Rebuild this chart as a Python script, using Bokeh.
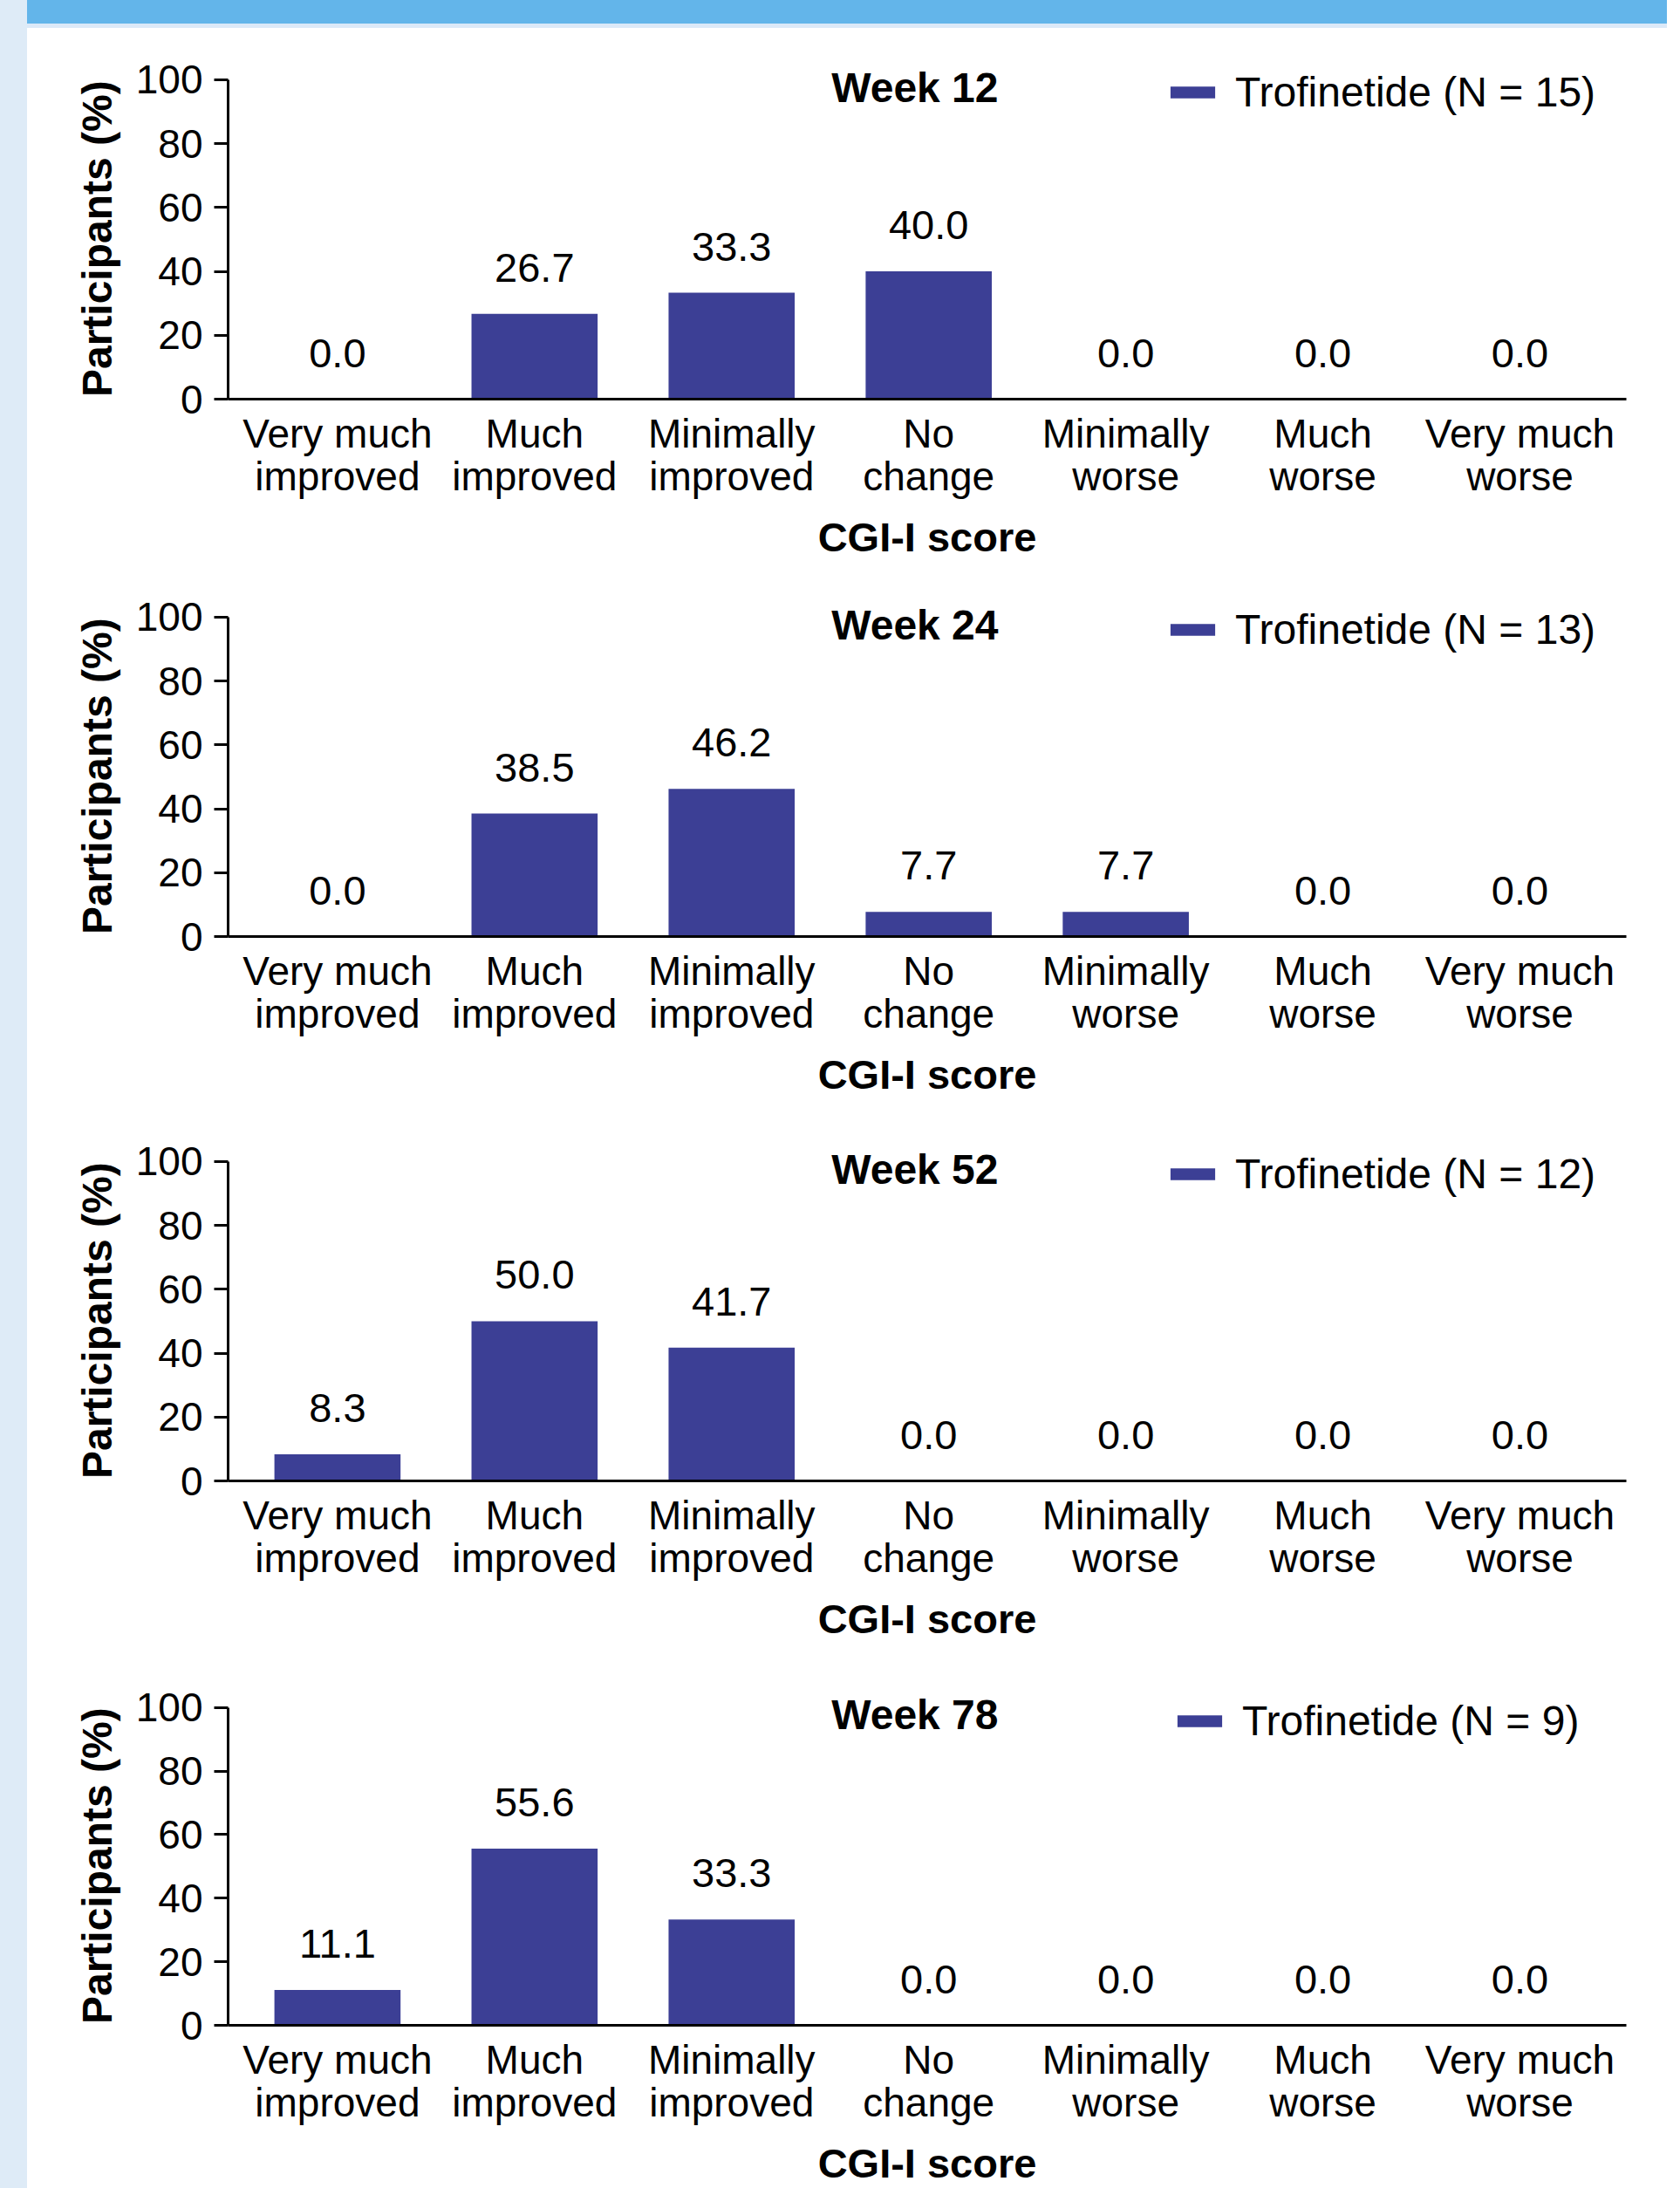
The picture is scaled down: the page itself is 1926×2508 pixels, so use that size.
from bokeh.plotting import figure
from bokeh.models import Range1d, FixedTicker, Label, Legend, LegendItem, ColumnDataSource, Div
from bokeh.layouts import row, column
from bokeh.core.properties import value
from bokeh.embed import file_html
from bokeh.resources import INLINE

# ---------------- data ----------------
categories = ["Very much\nimproved", "Much\nimproved", "Minimally\nimproved", "No\nchange",
              "Minimally\nworse", "Much\nworse", "Very much\nworse"]
weeks = ["Week 12", "Week 24", "Week 52", "Week 78"]
n_participants = [15, 13, 12, 9]
week12 = [0.0, 26.7, 33.3, 40.0, 0.0, 0.0, 0.0]
week24 = [0.0, 38.5, 46.2, 7.7, 7.7, 0.0, 0.0]
week52 = [8.3, 50.0, 41.7, 0.0, 0.0, 0.0, 0.0]
week78 = [11.1, 55.6, 33.3, 0.0, 0.0, 0.0, 0.0]
series = [week12, week24, week52, week78]
y_ticks = [0, 20, 40, 60, 80, 100]
y_title = "Participants (%)"
x_title = "CGI-I score"

# ---------------- style ----------------
FONT = "Liberation Sans"
BAR = "#3c3f95"
FIG_W = 1880
FRAME_H = 421
tops = [4, 4, 4, 4]
bottoms = [191, 199, 201, 185]
legend_x = [1074, 1074, 1074, 1082]
# non-breaking spaces after the title so that it is centred on the 0-100 axis line
Y_TITLE_PAD = "\u00a0" * 4


def make_panel(i):
    vals = series[i]
    h = tops[i] + FRAME_H + bottoms[i]
    p = figure(width=FIG_W, height=h, output_backend="svg", toolbar_location=None,
               x_range=Range1d(-0.555, 6.54), y_range=Range1d(0, 115),
               min_border_left=230, min_border_right=FIG_W - 230 - 1603,
               min_border_top=tops[i], min_border_bottom=bottoms[i])
    p.outline_line_color = None
    p.xgrid.visible = False
    p.ygrid.visible = False
    p.background_fill_color = "white"
    p.border_fill_color = "white"

    src = ColumnDataSource(dict(x=list(range(len(categories))), top=vals,
                                label=[f"{v:.1f}" for v in vals]))
    bars = p.vbar(x="x", top="top", bottom=0, width=0.64, source=src,
                  fill_color=BAR, line_color=None)
    p.text(x="x", y="top", text="label", source=src, text_font=value(FONT),
           text_font_size="47px", text_align="center", text_baseline="alphabetic",
           y_offset=-53, text_color="black")

    # x axis
    xa = p.xaxis[0]
    xa.ticker = FixedTicker(ticks=list(range(len(categories))))
    xa.major_label_overrides = {k: c for k, c in enumerate(categories)}
    xa.major_tick_line_color = None
    xa.minor_tick_line_color = None
    xa.axis_line_width = 3
    xa.axis_line_color = "black"
    xa.major_label_text_font = FONT
    xa.major_label_text_font_size = "46px"
    xa.major_label_text_line_height = 0.95
    xa.major_label_text_color = "black"
    xa.major_label_standoff = 7
    xa.axis_label = x_title
    xa.axis_label_text_font = FONT
    xa.axis_label_text_font_size = "47px"
    xa.axis_label_text_font_style = "bold"
    xa.axis_label_text_color = "black"
    xa.axis_label_standoff = 14

    # y axis
    ya = p.yaxis[0]
    ya.ticker = FixedTicker(ticks=y_ticks)
    ya.bounds = (0, 100)
    ya.axis_line_width = 3
    ya.axis_line_color = "black"
    ya.major_tick_line_width = 3
    ya.major_tick_line_color = "black"
    ya.major_tick_out = 16
    ya.major_tick_in = 0
    ya.minor_tick_line_color = None
    ya.major_label_text_font = FONT
    ya.major_label_text_font_size = "46px"
    ya.major_label_text_color = "black"
    ya.major_label_standoff = 13
    ya.axis_label = y_title + Y_TITLE_PAD
    ya.axis_label_text_font = FONT
    ya.axis_label_text_font_size = "48px"
    ya.axis_label_text_font_style = "bold"
    ya.axis_label_text_color = "black"
    ya.axis_label_standoff = 15

    p.add_layout(Label(x=2.93, y=97.6, text=weeks[i], text_font=FONT, text_font_size="48px",
                       text_font_style="bold", text_align="center", text_baseline="middle",
                       text_color="black"))

    leg = Legend(items=[LegendItem(label=f"Trofinetide (N = {n_participants[i]})", renderers=[bars])],
                 location=(legend_x[i], 324 if i < 3 else 321), padding=0, margin=0, spacing=0,
                 border_line_color=None, background_fill_alpha=0,
                 glyph_width=64, glyph_height=17, label_standoff=17,
                 label_text_font=FONT, label_text_font_size="48px", label_text_color="black")
    p.add_layout(leg)
    return p


panels = [make_panel(i) for i in range(4)]

total_h = 32 + sum(tops[i] + FRAME_H + bottoms[i] for i in range(4))
strip = Div(text="", width=31, height=total_h, margin=0, styles={"background-color": "#deebf7"})
banner = Div(text="", width=FIG_W, height=27, margin=0, styles={"background-color": "#63b5ea"})
line = Div(text="", width=FIG_W, height=5, margin=0, styles={"background-color": "#dbe9f8"})

layout = row(strip, column(banner, line, *panels, spacing=0), spacing=0)

open("out.html", "w").write(file_html(layout, INLINE))
